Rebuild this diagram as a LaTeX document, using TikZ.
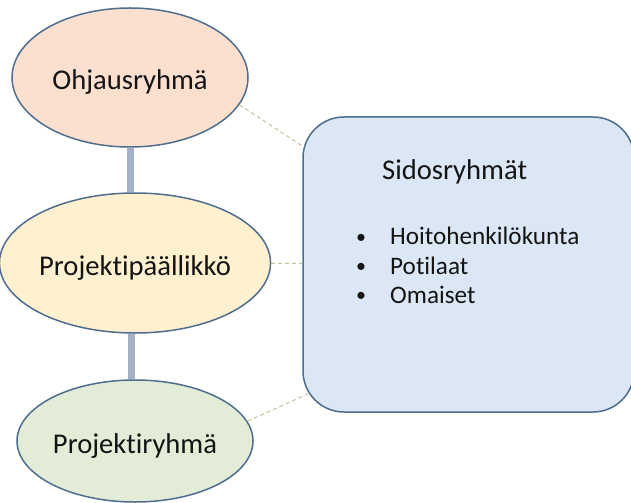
\documentclass[tikz,border=0pt]{standalone}
\usepackage{fontspec}
\setmainfont{Carlito}[RawFeature=-liga]
\usetikzlibrary{calc,shapes.geometric}

\definecolor{edgeblue}{HTML}{4F6D8E}
\definecolor{peach}{HTML}{FBE0D0}
\definecolor{butter}{HTML}{FFF0CF}
\definecolor{sage}{HTML}{E3ECD6}
\definecolor{sky}{HTML}{DBE7F4}
\definecolor{barblue}{HTML}{A4B0C6}
\definecolor{linktan}{HTML}{C3BB94}
\definecolor{ink}{HTML}{141414}

\newcommand{\itemdot}{\raisebox{1.5bp}{\fontsize{20bp}{29bp}\selectfont •}}

\tikzset{
  role/.style={ellipse, draw=edgeblue, line width=1.5bp, inner sep=0pt,
    minimum width=236bp, text=ink, text height=24bp, text depth=0bp,
    font=\fontsize{28.6bp}{34bp}\selectfont},
  stakebox/.style={rectangle, rounded corners=41bp, draw=edgeblue,
    line width=1.5bp, fill=sky, minimum width=331bp, minimum height=295bp,
    inner sep=0pt},
  chain/.style={draw=barblue, line width=7bp},
  link/.style={draw=linktan, line width=0.9bp, dash pattern=on 4bp off 3bp},
  boxtext/.style={text=ink, inner sep=0pt, anchor=base west},
}

\begin{document}
\begin{tikzpicture}[x=1bp, y=-1bp]
\useasboundingbox (0,0) rectangle (631,503);

% organisation levels
\node[role, fill=peach,  minimum height=139bp] (o) at (130,77.5) {Ohjausryhmä};
\node[role, fill=butter, minimum height=140bp] (p) at (135,263)  {Projektipäällikkö};
\node[role, fill=sage,   minimum height=122bp] (q) at (135,441)  {Projektiryhmä};

% stakeholder box
\node[stakebox] (s) at (468.5,264.5) {};
\coordinate (s-top)    at ($(s.north west)+(2,31)$);
\coordinate (s-bottom) at ($(s.south west)+(6,-19)$);

% solid chain between levels
\draw[chain] (o.south) -- (o.south |- p.north);
\draw[chain] ($(p.south -| o.south)+(1.5,0)$) -- ($(q.north -| o.south)+(1.5,0)$);

% dashed links to the stakeholders
\draw[link] (o.-14) -- (s-top);
\draw[link] (p.east) -- (p.east -| s.west);
\draw[link] (q.10.5) -- (s-bottom);

% stakeholder texts
\node[boxtext, font=\fontsize{28.6bp}{34bp}\selectfont] (st) at (382,180) {Sidosryhmät};
\node[boxtext, font=\fontsize{25.2bp}{29bp}\selectfont] (sl) at (356,245)
  {\begin{tabular}[t]{@{}p{34bp}@{}l@{}}
    \itemdot & Hoitohenkilökunta\\
    \itemdot & Potilaat\\
    \itemdot & Omaiset
  \end{tabular}};
\end{tikzpicture}
\end{document}
